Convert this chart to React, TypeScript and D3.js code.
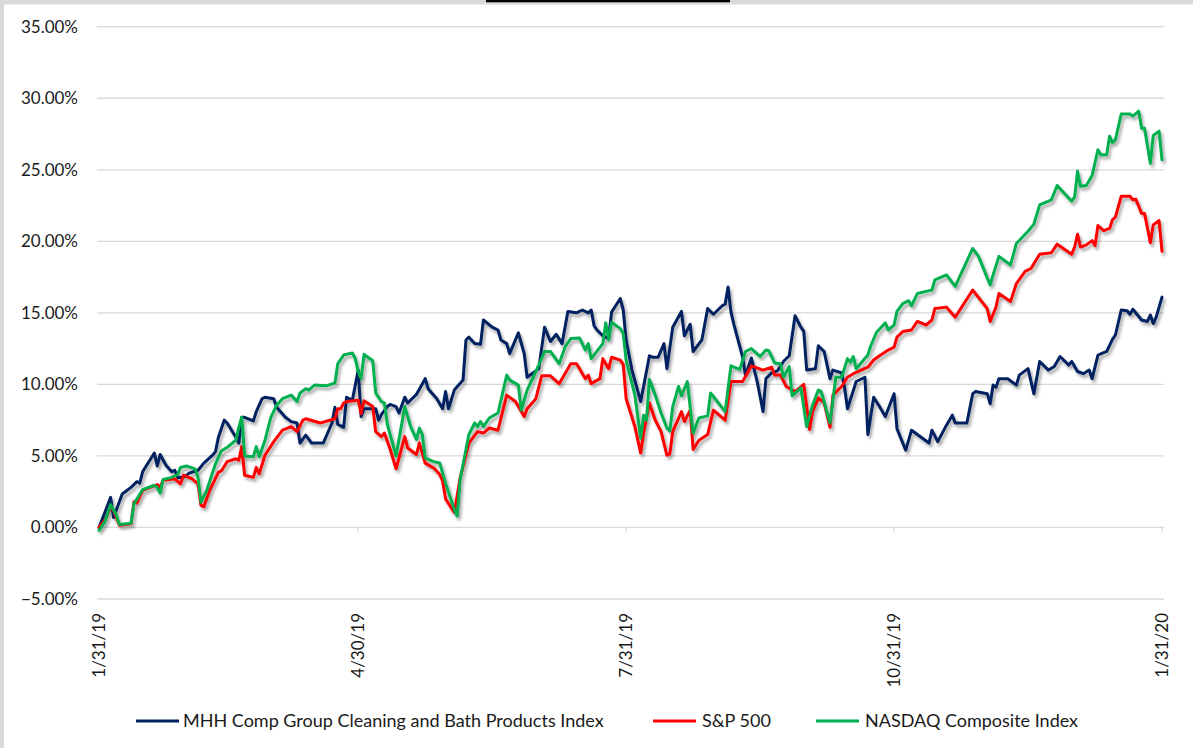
import React from "react";
import * as d3 from "d3";

const SERIES_NAMES = [
  "MHH Comp Group Cleaning and Bath Products Index",
  "S&P 500",
  "NASDAQ Composite Index",
];
const SERIES_COLORS = ["#002060", "#FF0000", "#00B050"];
const Y_TICKS = [-5, 0, 5, 10, 15, 20, 25, 30, 35];
const X_TICKS = ["1/31/19", "4/30/19", "7/31/19", "10/31/19", "1/31/20"];

const MHH_POINTS: [string, number][] = [
  ["1/31/19", 0], ["2/4/19", 2.1], ["2/5/19", 0.7], ["2/8/19", 2.35], ["2/9/19", 2.5], ["2/11/19", 2.8],
  ["2/13/19", 3.2], ["2/14/19", 3.1], ["2/15/19", 3.9], ["2/19/19", 5.2], ["2/20/19", 4.3], ["2/21/19", 5.1],
  ["2/23/19", 4.35], ["2/25/19", 3.9], ["2/26/19", 4.0], ["2/27/19", 3.5], ["3/1/19", 3.5], ["3/3/19", 3.8],
  ["3/6/19", 4.0], ["3/8/19", 4.5], ["3/11/19", 5.05], ["3/12/19", 5.3], ["3/13/19", 6.3], ["3/15/19", 7.5],
  ["3/16/19", 7.3], ["3/19/19", 6.3], ["3/20/19", 5.9], ["3/21/19", 7.7], ["3/22/19", 7.7], ["3/25/19", 7.45],
  ["3/26/19", 8.1], ["3/28/19", 9.0], ["3/29/19", 9.1], ["4/1/19", 9.0], ["4/2/19", 8.4], ["4/5/19", 7.7],
  ["4/7/19", 7.4], ["4/9/19", 7.3], ["4/10/19", 5.9], ["4/12/19", 6.45], ["4/14/19", 5.9], ["4/18/19", 5.9],
  ["4/21/19", 7.3], ["4/22/19", 8.4], ["4/23/19", 7.2], ["4/25/19", 7.0], ["4/26/19", 9.1], ["4/28/19", 8.9],
  ["4/30/19", 11.0], ["5/1/19", 7.75], ["5/2/19", 8.3], ["5/6/19", 8.3], ["5/7/19", 7.5], ["5/8/19", 7.9],
  ["5/10/19", 8.45], ["5/11/19", 8.6], ["5/13/19", 8.45], ["5/14/19", 8.0], ["5/16/19", 9.1], ["5/17/19", 8.7],
  ["5/20/19", 9.3], ["5/23/19", 10.4], ["5/24/19", 9.7], ["5/27/19", 9.0], ["5/29/19", 8.3], ["5/30/19", 9.5],
  ["5/31/19", 8.3], ["6/2/19", 9.6], ["6/5/19", 10.3], ["6/6/19", 13.1], ["6/7/19", 13.3], ["6/9/19", 12.85],
  ["6/11/19", 12.8], ["6/12/19", 14.5], ["6/15/19", 14.0], ["6/17/19", 13.8], ["6/18/19", 13.1], ["6/20/19", 12.85],
  ["6/21/19", 12.15], ["6/24/19", 13.6], ["6/26/19", 12.15], ["6/27/19", 10.5], ["6/29/19", 10.8], ["7/1/19", 11.1],
  ["7/3/19", 14.0], ["7/5/19", 13.0], ["7/7/19", 13.5], ["7/9/19", 12.85], ["7/11/19", 15.1], ["7/14/19", 15.0],
  ["7/15/19", 15.1], ["7/16/19", 15.2], ["7/18/19", 15.0], ["7/19/19", 15.2], ["7/20/19", 14.1], ["7/21/19", 13.8],
  ["7/23/19", 13.4], ["7/25/19", 13.2], ["7/26/19", 15.05], ["7/29/19", 16.0], ["7/30/19", 15.2], ["7/31/19", 13.1],
  ["8/2/19", 11.0], ["8/5/19", 8.8], ["8/8/19", 12.0], ["8/9/19", 11.9], ["8/11/19", 11.9], ["8/13/19", 12.85],
  ["8/14/19", 11.1], ["8/16/19", 14.0], ["8/19/19", 15.1], ["8/20/19", 13.4], ["8/22/19", 14.2], ["8/23/19", 12.3],
  ["8/26/19", 13.1], ["8/28/19", 15.3], ["8/30/19", 14.9], ["9/2/19", 15.5], ["9/3/19", 15.6], ["9/4/19", 16.8],
  ["9/5/19", 15.05], ["9/6/19", 14.2], ["9/9/19", 11.9], ["9/10/19", 10.6], ["9/12/19", 11.85], ["9/14/19", 10.2],
  ["9/16/19", 8.1], ["9/17/19", 10.4], ["9/19/19", 10.8], ["9/21/19", 10.95], ["9/23/19", 11.6], ["9/25/19", 12.0],
  ["9/27/19", 14.8], ["9/29/19", 14.0], ["9/30/19", 13.7], ["10/1/19", 11.0], ["10/4/19", 11.1], ["10/5/19", 12.7],
  ["10/7/19", 12.3], ["10/9/19", 10.4], ["10/10/19", 11.0], ["10/13/19", 10.8], ["10/14/19", 9.8], ["10/15/19", 8.3],
  ["10/18/19", 10.2], ["10/21/19", 10.5], ["10/22/19", 6.5], ["10/24/19", 9.1], ["10/26/19", 8.45], ["10/28/19", 7.75],
  ["10/31/19", 9.35], ["11/1/19", 6.9], ["11/4/19", 5.4], ["11/6/19", 6.8], ["11/12/19", 5.9], ["11/13/19", 6.8],
  ["11/15/19", 6.0], ["11/18/19", 7.15], ["11/20/19", 7.85], ["11/21/19", 7.3], ["11/25/19", 7.3], ["11/27/19", 9.35],
  ["11/28/19", 9.5], ["12/2/19", 9.35], ["12/3/19", 8.65], ["12/4/19", 9.95], ["12/5/19", 9.8], ["12/6/19", 10.4],
  ["12/9/19", 10.4], ["12/11/19", 10.1], ["12/12/19", 9.95], ["12/13/19", 10.65], ["12/16/19", 11.1], ["12/18/19", 9.35],
  ["12/20/19", 11.6], ["12/23/19", 11.0], ["12/25/19", 11.25], ["12/27/19", 11.95], ["12/30/19", 11.35], ["12/31/19", 11.6],
  ["1/2/20", 10.9], ["1/4/20", 10.75], ["1/6/20", 11.0], ["1/7/20", 10.4], ["1/9/20", 12.05], ["1/12/20", 12.3],
  ["1/14/20", 13.15], ["1/15/20", 13.45], ["1/17/20", 15.2], ["1/19/20", 15.15], ["1/20/20", 14.9], ["1/21/20", 15.25],
  ["1/24/20", 14.5], ["1/26/20", 14.4], ["1/27/20", 14.85], ["1/28/20", 14.25], ["1/29/20", 14.7], ["1/31/20", 16.1],
];

const SP500_POINTS: [string, number][] = [
  ["1/31/19", 0], ["2/2/19", 0.5], ["2/4/19", 1.4], ["2/5/19", 1.2], ["2/7/19", 0.15], ["2/11/19", 0.25],
  ["2/12/19", 1.8], ["2/13/19", 1.7], ["2/15/19", 2.6], ["2/20/19", 3.0], ["2/21/19", 2.8], ["2/22/19", 3.3],
  ["2/26/19", 3.4], ["2/28/19", 3.05], ["3/1/19", 3.65], ["3/4/19", 3.4], ["3/6/19", 3.05], ["3/7/19", 1.55],
  ["3/8/19", 1.45], ["3/10/19", 2.6], ["3/13/19", 3.85], ["3/14/19", 3.95], ["3/16/19", 4.6], ["3/19/19", 4.8],
  ["3/20/19", 4.7], ["3/21/19", 5.65], ["3/22/19", 3.65], ["3/25/19", 3.5], ["3/26/19", 4.2], ["3/27/19", 3.75],
  ["3/29/19", 5.05], ["4/1/19", 6.0], ["4/4/19", 6.8], ["4/7/19", 7.05], ["4/9/19", 6.7], ["4/11/19", 7.5],
  ["4/12/19", 7.6], ["4/17/19", 7.3], ["4/22/19", 7.6], ["4/23/19", 8.3], ["4/24/19", 8.3], ["4/25/19", 8.7],
  ["4/26/19", 8.8], ["4/30/19", 8.9], ["5/1/19", 7.95], ["5/2/19", 8.85], ["5/5/19", 8.45], ["5/6/19", 6.7],
  ["5/8/19", 6.35], ["5/9/19", 6.6], ["5/11/19", 5.45], ["5/13/19", 4.1], ["5/16/19", 6.35], ["5/17/19", 5.55],
  ["5/20/19", 5.1], ["5/21/19", 5.9], ["5/23/19", 4.5], ["5/26/19", 4.15], ["5/28/19", 3.7], ["5/29/19", 3.25],
  ["5/30/19", 2.0], ["6/2/19", 1.05], ["6/4/19", 3.45], ["6/7/19", 5.9], ["6/10/19", 6.7], ["6/12/19", 6.6],
  ["6/14/19", 6.95], ["6/17/19", 6.8], ["6/20/19", 9.25], ["6/23/19", 8.8], ["6/26/19", 7.75], ["6/27/19", 8.3],
  ["6/30/19", 9.0], ["7/2/19", 10.6], ["7/5/19", 10.6], ["7/8/19", 10.05], ["7/12/19", 11.45], ["7/14/19", 11.45],
  ["7/17/19", 10.4], ["7/18/19", 10.65], ["7/19/19", 10.05], ["7/22/19", 10.4], ["7/23/19", 11.8], ["7/25/19", 11.1],
  ["7/26/19", 11.9], ["7/29/19", 11.7], ["7/30/19", 11.4], ["7/31/19", 9.0], ["8/3/19", 7.05], ["8/5/19", 5.2],
  ["8/6/19", 6.6], ["8/8/19", 8.7], ["8/10/19", 7.5], ["8/12/19", 6.7], ["8/14/19", 5.05], ["8/15/19", 5.15],
  ["8/16/19", 6.7], ["8/19/19", 8.1], ["8/20/19", 7.4], ["8/22/19", 8.2], ["8/23/19", 5.45], ["8/25/19", 6.1],
  ["8/28/19", 6.5], ["8/30/19", 8.2], ["9/3/19", 7.5], ["9/5/19", 10.2], ["9/9/19", 10.2], ["9/12/19", 11.3],
  ["9/16/19", 11.0], ["9/19/19", 11.2], ["9/20/19", 10.65], ["9/22/19", 10.65], ["9/24/19", 9.85], ["9/27/19", 9.5],
  ["9/30/19", 10.0], ["10/2/19", 6.85], ["10/3/19", 8.1], ["10/5/19", 9.05], ["10/7/19", 8.7], ["10/9/19", 7.0],
  ["10/10/19", 9.25], ["10/13/19", 9.85], ["10/15/19", 10.5], ["10/17/19", 10.75], ["10/22/19", 11.2], ["10/24/19", 11.7],
  ["10/26/19", 12.0], ["10/29/19", 12.4], ["10/31/19", 12.6], ["11/1/19", 13.3], ["11/3/19", 13.7], ["11/6/19", 13.8],
  ["11/8/19", 14.4], ["11/11/19", 14.15], ["11/13/19", 14.5], ["11/14/19", 15.3], ["11/18/19", 15.4], ["11/21/19", 14.7],
  ["11/27/19", 16.6], ["12/2/19", 15.3], ["12/3/19", 14.4], ["12/5/19", 15.4], ["12/6/19", 16.35], ["12/10/19", 15.8],
  ["12/12/19", 17.05], ["12/15/19", 17.9], ["12/17/19", 18.1], ["12/20/19", 19.1], ["12/24/19", 19.2], ["12/26/19", 19.8],
  ["12/31/19", 19.1], ["1/1/20", 19.6], ["1/2/20", 20.5], ["1/3/20", 19.6], ["1/5/20", 19.75], ["1/7/20", 20.05],
  ["1/8/20", 19.7], ["1/9/20", 21.1], ["1/11/20", 20.75], ["1/13/20", 20.9], ["1/14/20", 21.5], ["1/15/20", 21.7],
  ["1/17/20", 23.15], ["1/20/20", 23.15], ["1/21/20", 22.9], ["1/22/20", 22.95], ["1/24/20", 21.95], ["1/25/20", 21.95],
  ["1/27/20", 19.9], ["1/28/20", 21.15], ["1/30/20", 21.45], ["1/31/20", 19.3],
];

const NASDAQ_POINTS: [string, number][] = [
  ["1/31/19", -0.2], ["2/2/19", 0.4], ["2/4/19", 1.6], ["2/6/19", 0.85], ["2/7/19", 0.2], ["2/11/19", 0.3],
  ["2/12/19", 1.65], ["2/15/19", 2.65], ["2/19/19", 2.95], ["2/20/19", 2.8], ["2/21/19", 2.4], ["2/22/19", 3.35],
  ["2/25/19", 3.5], ["2/27/19", 3.7], ["2/28/19", 4.2], ["3/2/19", 4.3], ["3/5/19", 4.1], ["3/6/19", 3.5],
  ["3/7/19", 1.75], ["3/9/19", 2.6], ["3/12/19", 4.45], ["3/14/19", 5.35], ["3/16/19", 5.6], ["3/19/19", 6.1],
  ["3/20/19", 7.0], ["3/21/19", 7.7], ["3/22/19", 5.0], ["3/25/19", 4.95], ["3/26/19", 5.65], ["3/27/19", 4.95],
  ["3/29/19", 6.1], ["3/31/19", 7.7], ["4/2/19", 8.55], ["4/4/19", 9.0], ["4/7/19", 9.25], ["4/9/19", 8.8],
  ["4/10/19", 9.4], ["4/12/19", 9.7], ["4/13/19", 9.6], ["4/15/19", 9.95], ["4/19/19", 9.9], ["4/22/19", 10.1],
  ["4/23/19", 11.45], ["4/25/19", 12.05], ["4/28/19", 12.2], ["4/29/19", 11.8], ["4/30/19", 10.9], ["5/1/19", 10.4],
  ["5/2/19", 12.1], ["5/5/19", 11.65], ["5/6/19", 9.4], ["5/8/19", 8.8], ["5/9/19", 8.7], ["5/10/19", 7.2],
  ["5/13/19", 5.0], ["5/16/19", 8.45], ["5/18/19", 7.05], ["5/20/19", 6.15], ["5/21/19", 6.95], ["5/22/19", 6.5],
  ["5/23/19", 4.85], ["5/26/19", 4.6], ["5/28/19", 4.5], ["5/29/19", 3.8], ["5/30/19", 3.1], ["6/2/19", 1.25],
  ["6/3/19", 0.8], ["6/4/19", 3.35], ["6/7/19", 6.5], ["6/9/19", 7.3], ["6/10/19", 7.05], ["6/11/19", 7.4],
  ["6/12/19", 7.05], ["6/14/19", 7.65], ["6/17/19", 8.0], ["6/20/19", 10.65], ["6/21/19", 10.3], ["6/24/19", 9.95],
  ["6/25/19", 8.2], ["6/27/19", 9.6], ["6/30/19", 10.9], ["7/3/19", 12.3], ["7/5/19", 12.3], ["7/8/19", 11.45],
  ["7/10/19", 12.6], ["7/12/19", 13.2], ["7/15/19", 13.25], ["7/17/19", 12.4], ["7/18/19", 12.85], ["7/19/19", 11.8],
  ["7/23/19", 12.85], ["7/24/19", 14.3], ["7/25/19", 13.1], ["7/26/19", 14.35], ["7/29/19", 13.9], ["7/30/19", 13.55],
  ["7/31/19", 11.7], ["8/3/19", 9.25], ["8/5/19", 6.25], ["8/6/19", 7.85], ["8/7/19", 7.5], ["8/8/19", 10.35],
  ["8/10/19", 9.25], ["8/12/19", 8.0], ["8/14/19", 6.95], ["8/15/19", 6.75], ["8/16/19", 8.45], ["8/18/19", 9.85],
  ["8/19/19", 9.2], ["8/21/19", 10.2], ["8/23/19", 6.6], ["8/25/19", 7.65], ["8/28/19", 7.8], ["8/29/19", 9.4],
  ["9/3/19", 8.1], ["9/5/19", 11.3], ["9/8/19", 11.05], ["9/10/19", 12.3], ["9/12/19", 12.5], ["9/15/19", 11.95],
  ["9/17/19", 12.4], ["9/18/19", 12.35], ["9/20/19", 11.5], ["9/22/19", 11.45], ["9/23/19", 10.5], ["9/25/19", 11.25],
  ["9/26/19", 9.2], ["9/29/19", 9.75], ["10/1/19", 7.05], ["10/3/19", 8.55], ["10/5/19", 9.6], ["10/6/19", 9.5],
  ["10/9/19", 7.3], ["10/11/19", 10.5], ["10/13/19", 10.5], ["10/15/19", 11.8], ["10/16/19", 11.55], ["10/17/19", 11.95],
  ["10/18/19", 11.1], ["10/22/19", 12.05], ["10/23/19", 12.7], ["10/25/19", 13.65], ["10/28/19", 14.3], ["10/29/19", 13.8],
  ["10/31/19", 14.15], ["11/1/19", 15.1], ["11/3/19", 15.65], ["11/5/19", 15.85], ["11/6/19", 15.5], ["11/8/19", 16.35],
  ["11/11/19", 16.5], ["11/13/19", 16.6], ["11/14/19", 17.3], ["11/18/19", 17.65], ["11/21/19", 16.85], ["11/27/19", 19.5],
  ["11/29/19", 18.95], ["12/3/19", 16.95], ["12/4/19", 17.65], ["12/6/19", 18.95], ["12/10/19", 18.35], ["12/12/19", 19.85],
  ["12/16/19", 20.7], ["12/18/19", 21.2], ["12/20/19", 22.55], ["12/24/19", 22.9], ["12/26/19", 23.9], ["12/31/19", 22.8],
  ["1/1/20", 23.1], ["1/2/20", 24.9], ["1/3/20", 23.85], ["1/5/20", 23.9], ["1/7/20", 24.6], ["1/9/20", 26.4],
  ["1/10/20", 26.05], ["1/12/20", 26.05], ["1/13/20", 27.35], ["1/14/20", 26.9], ["1/15/20", 27.1], ["1/17/20", 28.9],
  ["1/20/20", 28.9], ["1/21/20", 28.75], ["1/23/20", 29.1], ["1/24/20", 27.9], ["1/25/20", 27.9], ["1/27/20", 25.45],
  ["1/28/20", 27.4], ["1/30/20", 27.7], ["1/31/20", 25.7],
];

const ALL_SERIES = [MHH_POINTS, SP500_POINTS, NASDAQ_POINTS];

const W = 1193;
const H = 748;
const FONT = "Lato, 'Open Sans', sans-serif";
const parseDate = d3.timeParse("%m/%d/%y");
const fmtPct = d3.format(".2%");
const fmtDate = d3.timeFormat("%-m/%-d/%y");

export default function App() {
  const x = d3
    .scaleTime()
    .domain([parseDate(X_TICKS[0])!, parseDate(X_TICKS[X_TICKS.length - 1])!])
    .range([99, 1162]);
  const y = d3.scaleLinear().domain([-5, 35]).range([599, 26.7]);

  const line = d3
    .line<[string, number]>()
    .x((d) => x(parseDate(d[0])!))
    .y((d) => y(d[1]));

  const legendItems = [
    { lx: 136, tx: 183 },
    { lx: 653, tx: 702 },
    { lx: 816, tx: 865 },
  ];

  return (
    <svg
      width={W}
      height={H}
      style={{ position: "absolute", left: 0, top: 0, background: "#fff" }}
      fontFamily={FONT}
    >
      <defs>
        <filter id="shadow" x="-5%" y="-5%" width="110%" height="115%">
          <feDropShadow dx="2" dy="3" stdDeviation="1.8" floodColor="#000" floodOpacity="0.35" />
        </filter>
      </defs>
      <rect x={0} y={0} width={W} height={H} fill="#fff" />
      {/* frame */}
      <rect x={0} y={0} width={W} height={4.5} fill="#D9D9D9" />
      <rect x={0} y={0} width={4} height={H} fill="#D9D9D9" />
      <rect x={486} y={0} width={244} height={2.3} fill="#000" />

      {/* gridlines */}
      {Y_TICKS.map((t) => (
        <line key={t} x1={97} x2={1164} y1={y(t)} y2={y(t)} stroke="#D9D9D9" strokeWidth={1.3} />
      ))}
      {/* x tick marks on zero line */}
      {X_TICKS.map((t) => {
        const xx = x(parseDate(t)!);
        return <line key={t} x1={xx} x2={xx} y1={y(0)} y2={y(0) + 5} stroke="#D9D9D9" strokeWidth={1.3} />;
      })}

      {/* y labels */}
      {Y_TICKS.map((t) => (
        <text key={t} x={78} y={y(t)} dy="0.35em" textAnchor="end" fontSize={17} fill="#1a1a1a">
          {fmtPct(t / 100)}
        </text>
      ))}
      {/* x labels */}
      {X_TICKS.map((t) => {
        const d = parseDate(t)!;
        return (
          <text
            key={t}
            transform={`translate(${x(d)},613) rotate(-90)`}
            dy="0.35em"
            textAnchor="end"
            fontSize={17}
            fill="#1a1a1a"
          >
            {fmtDate(d)}
          </text>
        );
      })}

      {/* lines */}
      <g filter="url(#shadow)">
        {ALL_SERIES.map((s, i) => (
          <path
            key={i}
            d={line(s) || ""}
            fill="none"
            stroke={SERIES_COLORS[i]}
            strokeWidth={3}
            strokeLinejoin="round"
            strokeLinecap="round"
          />
        ))}
      </g>

      {/* legend */}
      {SERIES_NAMES.map((name, i) => (
        <g key={name}>
          <line
            x1={legendItems[i].lx}
            x2={legendItems[i].lx + 43}
            y1={721}
            y2={721}
            stroke={SERIES_COLORS[i]}
            strokeWidth={3}
          />
          <text x={legendItems[i].tx} y={721} dy="0.35em" fontSize={18} fill="#1a1a1a">
            {name}
          </text>
        </g>
      ))}
    </svg>
  );
}
